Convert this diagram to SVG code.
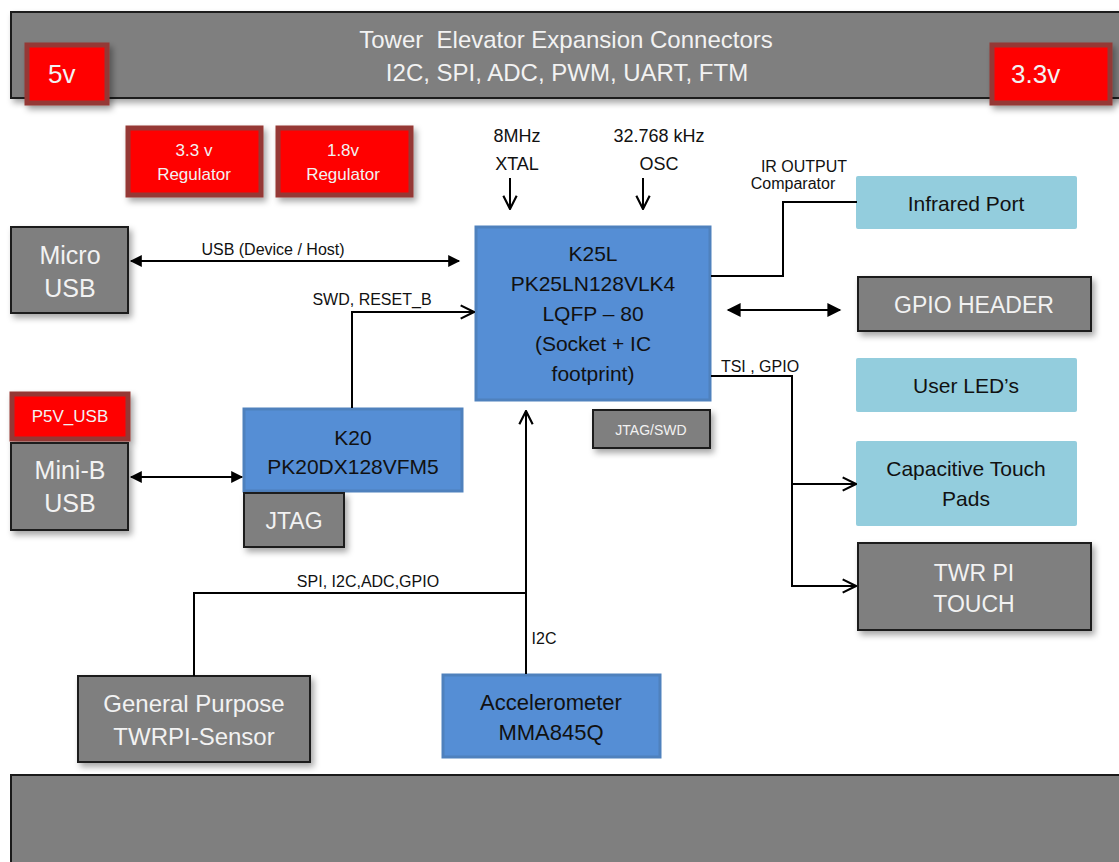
<svg xmlns="http://www.w3.org/2000/svg" width="1119" height="862" viewBox="0 0 1119 862">
<style>
text{font-family:"Liberation Sans",Arial,sans-serif;text-anchor:middle}
.gray{fill:#7f7f7f;stroke:#1a1a1a;stroke-width:2}
.red{fill:#ff0000;stroke:#953735;stroke-width:5}
.blue{fill:#558ed5;stroke:#4f81bd;stroke-width:3}
.lblue{fill:#93cddd}
.wt{fill:#f2f2f2}
.bk{fill:#111}
.ln{fill:none;stroke:#000;stroke-width:2}
.lab{font-size:16px;fill:#111}
</style>
<defs>
<filter id="sh" x="-10%" y="-10%" width="130%" height="140%">
<feDropShadow dx="3" dy="4" stdDeviation="3" flood-color="#000" flood-opacity="0.35"/>
</filter>
<marker id="tri" viewBox="0 0 10 10" refX="9" refY="5" markerWidth="14" markerHeight="12" markerUnits="userSpaceOnUse" orient="auto-start-reverse">
<path d="M0,0 L10,5 L0,10 z" fill="#000"/>
</marker>
<marker id="triB" viewBox="0 0 10 10" refX="9" refY="5" markerWidth="18" markerHeight="14" markerUnits="userSpaceOnUse" orient="auto-start-reverse">
<path d="M0,0 L10,5 L0,10 z" fill="#000"/>
</marker>
<marker id="vee" viewBox="0 0 12 12" refX="11" refY="6" markerWidth="16" markerHeight="16" markerUnits="userSpaceOnUse" orient="auto-start-reverse">
<path d="M1,1 L11,6 L1,11" fill="none" stroke="#000" stroke-width="1.6"/>
</marker>
</defs>
<rect width="1119" height="862" fill="#fff"/>

<g id="top-bar">
<rect x="11" y="12" width="1112" height="86" class="gray" filter="url(#sh)"/>
<text x="566" y="48" font-size="24" class="wt" xml:space="preserve">Tower  Elevator Expansion Connectors</text>
<text x="567" y="81" font-size="24" class="wt">I2C, SPI, ADC, PWM, UART, FTM</text>
</g>
<g id="v5">
<rect x="27" y="45" width="80" height="58" class="red" filter="url(#sh)"/>
<text x="48" y="83" font-size="26" class="wt" style="text-anchor:start">5v</text>
</g>
<g id="v33">
<rect x="992" y="45" width="118" height="58" class="red" filter="url(#sh)"/>
<text x="1011" y="83" font-size="26" class="wt" style="text-anchor:start">3.3v</text>
</g>
<g id="bottom-bar">
<rect x="11" y="775" width="1112" height="90" class="gray"/>
</g>

<g id="reg33">
<rect x="128" y="128" width="133" height="67" class="red" filter="url(#sh)"/>
<text x="194" y="156" font-size="17" class="wt">3.3 v</text>
<text x="194" y="180" font-size="17" class="wt">Regulator</text>
</g>
<g id="reg18">
<rect x="278" y="128" width="133" height="67" class="red" filter="url(#sh)"/>
<text x="343" y="156" font-size="17" class="wt">1.8v</text>
<text x="343" y="180" font-size="17" class="wt">Regulator</text>
</g>

<g id="xtal">
<text x="517" y="142" font-size="18" class="bk">8MHz</text>
<text x="517" y="170" font-size="18" class="bk">XTAL</text>
</g>
<g id="osc">
<text x="659" y="142" font-size="18" class="bk">32.768 kHz</text>
<text x="659" y="170" font-size="18" class="bk">OSC</text>
</g>

<g id="micro-usb">
<rect x="11" y="227" width="117" height="86" class="gray" filter="url(#sh)"/>
<text x="70" y="264" font-size="25" class="wt">Micro</text>
<text x="70" y="297" font-size="25" class="wt">USB</text>
</g>

<g id="k25l">
<rect x="476" y="227" width="234" height="173" class="blue"/>
<text x="593" y="261" font-size="21" class="bk">K25L</text>
<text x="593" y="291" font-size="21" class="bk">PK25LN128VLK4</text>
<text x="593" y="321" font-size="21" class="bk">LQFP – 80</text>
<text x="593" y="351" font-size="21" class="bk">(Socket + IC</text>
<text x="593" y="381" font-size="21" class="bk">footprint)</text>
</g>

<g id="jtag-swd">
<rect x="593" y="410" width="117" height="38" class="gray" filter="url(#sh)"/>
<text x="651" y="435" font-size="14" class="wt">JTAG/SWD</text>
</g>

<g id="infrared">
<rect x="856" y="176" width="221" height="53" rx="2" class="lblue"/>
<text x="966" y="211" font-size="21" class="bk">Infrared Port</text>
</g>
<g id="gpio-header">
<rect x="858" y="277" width="233" height="54" class="gray" filter="url(#sh)"/>
<text x="974" y="313" font-size="23" class="wt">GPIO HEADER</text>
</g>
<g id="user-leds">
<rect x="856" y="358" width="221" height="54" rx="2" class="lblue"/>
<text x="966" y="393" font-size="21" class="bk">User LED’s</text>
</g>
<g id="cap-touch">
<rect x="856" y="441" width="221" height="85" rx="2" class="lblue"/>
<text x="966" y="476" font-size="21" class="bk">Capacitive Touch</text>
<text x="966" y="506" font-size="21" class="bk">Pads</text>
</g>
<g id="twr-pi-touch">
<rect x="858" y="543" width="233" height="87" class="gray" filter="url(#sh)"/>
<text x="974" y="581" font-size="23" class="wt">TWR PI</text>
<text x="974" y="612" font-size="23" class="wt">TOUCH</text>
</g>

<g id="p5v-usb">
<rect x="12" y="394" width="116" height="45" class="red" filter="url(#sh)"/>
<text x="70" y="422" font-size="17" class="wt">P5V_USB</text>
</g>
<g id="mini-b-usb">
<rect x="11" y="443" width="117" height="87" class="gray" filter="url(#sh)"/>
<text x="70" y="479" font-size="25" class="wt">Mini-B</text>
<text x="70" y="512" font-size="25" class="wt">USB</text>
</g>

<g id="k20">
<rect x="244" y="409" width="218" height="82" class="blue"/>
<text x="353" y="445" font-size="21" class="bk">K20</text>
<text x="353" y="474" font-size="21" class="bk">PK20DX128VFM5</text>
</g>
<g id="jtag">
<rect x="244" y="493" width="100" height="54" class="gray" filter="url(#sh)"/>
<text x="294" y="529" font-size="23" class="wt">JTAG</text>
</g>

<g id="gp-sensor">
<rect x="78" y="676" width="232" height="86" class="gray" filter="url(#sh)"/>
<text x="194" y="712" font-size="24" class="wt">General Purpose</text>
<text x="194" y="745" font-size="24" class="wt">TWRPI-Sensor</text>
</g>
<g id="accel">
<rect x="443" y="675" width="217" height="82" class="blue"/>
<text x="551" y="710" font-size="22" class="bk">Accelerometer</text>
<text x="551" y="740" font-size="22" class="bk">MMA845Q</text>
</g>

<g id="connectors">
<line x1="510" y1="178" x2="510" y2="209" class="ln" stroke-width="1.5" marker-end="url(#vee)"/>
<line x1="643" y1="178" x2="643" y2="209" class="ln" stroke-width="1.5" marker-end="url(#vee)"/>
<line x1="131" y1="261" x2="459" y2="261" class="ln" marker-start="url(#tri)" marker-end="url(#tri)"/>
<text x="273" y="255" class="lab">USB (Device / Host)</text>
<polyline points="352,408 352,312 474,312" class="ln" marker-end="url(#vee)"/>
<text x="372" y="305" class="lab">SWD, RESET_B</text>
<polyline points="711,276 783,276 783,202 857,202" class="ln"/>
<text x="804" y="172" class="lab">IR OUTPUT</text>
<text x="793" y="189" class="lab">Comparator</text>
<line x1="728" y1="310" x2="840" y2="310" class="ln" stroke-width="2.5" marker-start="url(#triB)" marker-end="url(#triB)"/>
<polyline points="711,376 792,376 792,586 856,586" class="ln" marker-end="url(#vee)"/>
<line x1="792" y1="484" x2="856" y2="484" class="ln" marker-end="url(#vee)"/>
<text x="760" y="372" class="lab">TSI , GPIO</text>
<line x1="131" y1="477" x2="242" y2="477" class="ln" marker-start="url(#tri)" marker-end="url(#tri)"/>
<line x1="526" y1="674" x2="526" y2="411" class="ln" marker-end="url(#vee)"/>
<polyline points="526,593 194,593 194,676" class="ln"/>
<text x="368" y="587" class="lab">SPI, I2C,ADC,GPIO</text>
<text x="544" y="644" class="lab">I2C</text>
</g>
</svg>
